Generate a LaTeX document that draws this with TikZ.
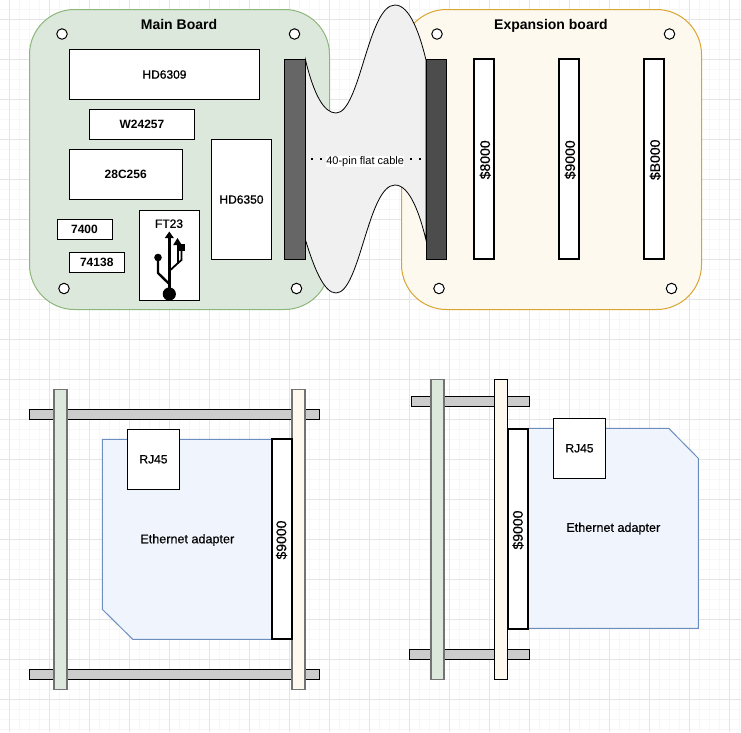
\documentclass[tikz,border=0pt]{standalone}
\usepackage{fontspec}
\setmainfont{Liberation Sans}
\newfontfamily\midfont[FakeBold=0.35]{Liberation Sans}
\newfontfamily\chipfont[FakeBold=0.9]{Liberation Sans}
\definecolor{gridmajor}{HTML}{E5E5E5}
\definecolor{gridminor}{HTML}{F7F7F7}
\definecolor{greenboard}{HTML}{DCE8DC}
\definecolor{greenedge}{HTML}{8DB67A}
\definecolor{yellowboard}{HTML}{FEF9EE}
\definecolor{yellowedge}{HTML}{D9A530}
\definecolor{adapterblue}{HTML}{F0F4FC}
\definecolor{adapteredge}{HTML}{6C8EBF}
\tikzset{
  board/.style={draw,rounded corners=45pt,minimum width=300pt,minimum height=300pt,outer sep=0pt,line width=1pt},
  chip/.style={draw,fill=white,outer sep=0pt,inner sep=0pt,line width=1pt,font=\fontsize{12}{12}\selectfont\bfseries},
  midchip/.style={chip,font=\fontsize{12}{12}\chipfont},
  slot/.style={draw,fill=white,outer sep=0pt,inner sep=0pt,line width=2pt,minimum width=20pt,minimum height=200pt},
  slotlabel/.style={rotate=90,inner sep=0pt,font=\fontsize{14}{14}\midfont},
  hole/.style={draw,circle,fill=white,minimum size=10.5pt,inner sep=0pt,line width=1pt},
  title/.style={inner sep=0pt,font=\fontsize{14}{14}\selectfont\bfseries},
  plain/.style={inner sep=0pt,font=\fontsize{12.6}{12.6}\midfont},
  rail/.style={draw,fill=black!20,outer sep=0pt,line width=1pt,minimum height=10pt},
  pcb/.style={draw,outer sep=0pt,line width=1.6pt,minimum width=13.3pt,minimum height=300pt},
  adapter/.style={draw=adapteredge,fill=adapterblue,line width=1pt},
  cabledots/.style={line width=1.4pt,dash pattern=on 1.4pt off 7.6pt},
}
\begin{document}
\begin{tikzpicture}[x=1pt,y=-1pt]
\useasboundingbox (0,0) rectangle (741,732);
% grid
\foreach \i in {0,...,74}{
  \draw[gridminor] (\i*10-.5,0) -- (\i*10-.5,732);
  \draw[gridminor] (0,\i*10-.5) -- (741,\i*10-.5);
}
\foreach \i in {0,...,18}{
  \draw[gridmajor] (\i*40+9.5,0) -- (\i*40+9.5,732);
  \draw[gridmajor] (0,\i*40+19.5) -- (741,\i*40+19.5);
}
% boards
\node[board,draw=greenedge,fill=greenboard] (mainboard) at (179.5,159.5) {};
\node[board,draw=yellowedge,fill=yellowboard] (expboard) at (551.5,159.5) {};
\node[title] (maintitle) at (179,24) {Main Board};
\node[title] (exptitle) at (551,25.5) {Expansion board};
% holes
\foreach \x/\y [count=\n] in {62/34,294.5/34,64/288.5,296.5/288.5,437/34,669.5/34,439/288.5,671.5/288.5}
  \node[hole] (hole\n) at (\x,\y) {};
% chips
\node[midchip,minimum width=190pt,minimum height=50pt] (cpu) at (164.5,74.5) {HD6309};
\node[chip,minimum width=105pt,minimum height=30pt] (ram) at (142,124.5) {W24257};
\node[chip,minimum width=112.5pt,minimum height=50pt] (rom) at (125.75,174.5) {28C256};
\node[midchip,minimum width=60pt,minimum height=120pt] (acia) at (241.5,199.5) {HD6350};
\node[chip,minimum width=55pt,minimum height=20pt] (nand) at (84.5,229.5) {7400};
\node[chip,minimum width=54.5pt,minimum height=20pt] (decoder) at (96.75,262.5) {74138};
\node[chip,minimum width=60pt,minimum height=90pt] (usb) at (169.5,255.5) {};
\node[plain,font=\fontsize{12}{12}\chipfont] (usblabel) at (169,223.7) {FT23};
% usb icon
\fill (169.3,294) circle (6.6);
\draw[line width=2.4pt] (169.3,294) -- (169.3,237);
\fill (169.3,231.5) -- (173.8,238) -- (164.8,238) -- cycle;
\draw[line width=2.4pt] (169.3,284) -- (158,273) -- (158,258);
\fill (158,257.5) circle (3.8);
\draw[line width=1.8pt] (169.3,271) -- (178,263) -- (178,244);
\fill (177.5,238) -- (181.8,245) -- (173.2,245) -- cycle;
\draw[line width=1.8pt] (178,263) -- (181.5,260) -- (181.5,250);
\fill (179.3,244.3) rectangle (185,251);
% flat cable
\draw[fill=black!6,line width=.8pt] (305.5,60) .. controls (314,95) and (324,113) .. (336,113)
  .. controls (360,113) and (368,5) .. (395,5) .. controls (410,5) and (420,35) .. (426,60)
  -- (426,240) .. controls (420,215) and (410,185) .. (395,185)
  .. controls (368,185) and (360,293) .. (336,293) .. controls (324,293) and (314,268) .. (305.5,240) -- cycle;
% connectors
\node[draw,fill=black!60,outer sep=0pt,line width=1pt,minimum width=20.5pt,minimum height=200pt] (connl) at (295,159.5) {};
\node[draw,fill=black!70,outer sep=0pt,line width=1pt,minimum width=20.5pt,minimum height=200pt] (connr) at (436.25,159.5) {};
\path (connl.east) ++(6,-.5) coordinate (cablestart) (connr.west) ++(0,-.5) coordinate (cableend);
\draw[cabledots] (cablestart) -- (cableend)
  node[midway,fill=white,inner sep=0pt,xshift=-3.5pt,yshift=-2.5pt,font=\fontsize{11}{11}\selectfont] (cablelabel) {40-pin flat cable};
% slots
\foreach \x/\a [count=\n] in {484.25/\$8000,569.25/\$9000,654.25/\$B000}{
  \node[slot] (slot\n) at (\x,159) {};
  \node[slotlabel,yshift=-1pt,xshift=-.8pt] (slotlabel\n) at (slot\n) {\a};
}
% left side view
\node[rail,minimum width=290pt] (railtopl) at (174.5,414.4) {};
\node[rail,minimum width=290pt] (railbotl) at (174.5,674.4) {};
\node[pcb,draw=black!55,fill=greenboard] (pcbmainl) at (60.6,539.4) {};
\node[pcb,draw=black!55,fill=yellowboard] (pcbexpl) at (298.6,539.4) {};
\draw[adapter] (272,439.3) -- (102.3,439.3) -- (102.3,609.3) -- (132.7,639.3) -- (272,639.3);
\node[slot] (slotl) at (282,539) {};
\node[slotlabel] (slotlabell) at (281.5,540) {\$9000};
\node[midchip,font=\fontsize{12}{12}\midfont,minimum width=52.4pt,minimum height=60pt] (rjl) at (153.5,459.3) {RJ45};
\node[plain] (adapterl) at (187.3,540) {Ethernet adapter};
% right side view
\node[rail,minimum width=118pt] (railtopr) at (470.3,401.3) {};
\node[rail,minimum width=120pt] (railbotr) at (469.3,654.3) {};
\node[pcb,draw=black!55,fill=greenboard] (pcbmainr) at (437.5,529.3) {};
\node[pcb,draw=black,line width=1pt,fill=yellowboard] (pcbexpr) at (501,529.3) {};
\draw[adapter] (528.5,428.3) -- (668.7,428.3) -- (698.3,458.3) -- (698.3,628.3) -- (528.5,628.3);
\node[slot] (slotr) at (518.4,528.7) {};
\node[slotlabel] (slotlabelr) at (518,530) {\$9000};
\node[midchip,font=\fontsize{12}{12}\midfont,minimum width=52.4pt,minimum height=60pt] (rjr) at (579.5,448.3) {RJ45};
\node[plain] (adapterr) at (613.3,528.6) {Ethernet adapter};
\end{tikzpicture}
\end{document}
